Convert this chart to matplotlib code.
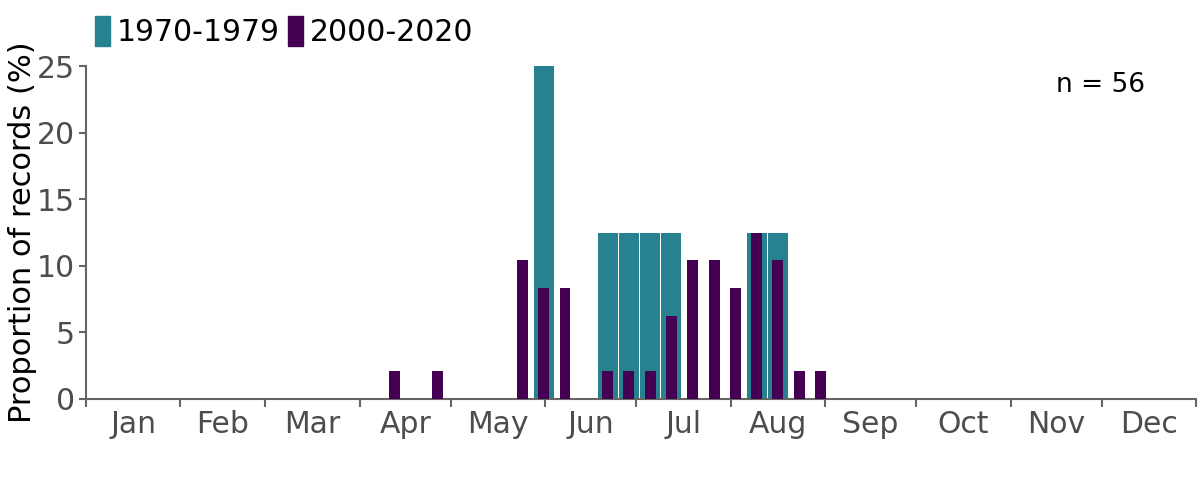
#!/usr/bin/env python3
# Proporcao semanal de registros por periodo (1970-1979 x 2000-2020)
import matplotlib
matplotlib.use("Agg")
import matplotlib.pyplot as plt
from matplotlib.patches import Patch

MESES = ["Jan", "Feb", "Mar", "Apr", "May", "Jun",
         "Jul", "Aug", "Sep", "Oct", "Nov", "Dec"]
DIAS_MES = [31, 28, 31, 30, 31, 30, 31, 31, 30, 31, 30, 31]

# semana do ano (0 = primeira) e proporcao (%)
SEM_7079 = [21, 24, 25, 26, 27, 31, 32]
PROP_7079 = [25.0, 12.5, 12.5, 12.5, 12.5, 12.5, 12.5]

SEM_0020 = [14, 16, 20, 21, 22, 24, 25, 26, 27, 28, 29, 30, 31, 32, 33, 34]
PROP_0020 = [2.08, 2.08, 10.42, 8.33, 8.33, 2.08, 2.08, 2.08, 6.25,
             10.42, 10.42, 8.33, 12.5, 10.42, 2.08, 2.08]

N_TOTAL = 56

COR_7079 = "#25828E"
COR_0020 = "#440154"
CINZA = "#666666"
TXT_TICK = "#4d4d4d"

plt.rcParams["font.family"] = ["DejaVu Sans"]

fig = plt.figure(figsize=(12, 4.8), dpi=100)
ax = fig.add_axes([0.0717, 0.16875, 0.925, 0.69375])

x7079 = [7 * s + 3.5 for s in SEM_7079]
x0020 = [7 * s + 3.5 for s in SEM_0020]
ax.bar(x7079, PROP_7079, width=6.6, color=COR_7079, linewidth=0, zorder=2)
ax.bar(x0020, PROP_0020, width=3.6, color=COR_0020, linewidth=0, zorder=3)

# limites dos meses e rotulos no meio
limites = [0]
for d in DIAS_MES:
    limites.append(limites[-1] + d)
meios = [(a + b) / 2 for a, b in zip(limites[:-1], limites[1:])]

ax.set_xlim(0, 365)
ax.set_ylim(0, 25)
ax.set_xticks(limites)
ax.set_xticklabels([])
ax.set_xticks(meios, minor=True)
ax.set_xticklabels(MESES, minor=True)
ax.tick_params(axis="x", which="major", length=6, width=1.5, color=CINZA)
ax.tick_params(axis="x", which="minor", length=0, pad=8,
               labelsize=21.5, labelcolor=TXT_TICK)
ax.set_yticks([0, 5, 10, 15, 20, 25])
ax.tick_params(axis="y", length=5, width=1.5, color=CINZA, pad=3,
               labelsize=21.5, labelcolor=TXT_TICK)

for lado in ["top", "right"]:
    ax.spines[lado].set_visible(False)
for lado in ["left", "bottom"]:
    ax.spines[lado].set_color(CINZA)
    ax.spines[lado].set_linewidth(1.5)

ax.set_ylabel("Proportion of records (%)", fontsize=22, color="black",
              labelpad=0)

ax.text(0.914, 0.943, f"n = {N_TOTAL}", transform=ax.transAxes,
        ha="center", va="center", fontsize=19, color="black")

alcas = [Patch(color=COR_7079), Patch(color=COR_0020)]
fig.legend(alcas, ["1970-1979", "2000-2020"], loc="upper left",
           bbox_to_anchor=(0.072, 0.985), ncol=2, frameon=False,
           fontsize=21.5, handlelength=0.5, handleheight=1.15,
           handletextpad=0.23, columnspacing=0.27, borderpad=0.3,
           borderaxespad=0)

fig.savefig("out.png", dpi=100)
